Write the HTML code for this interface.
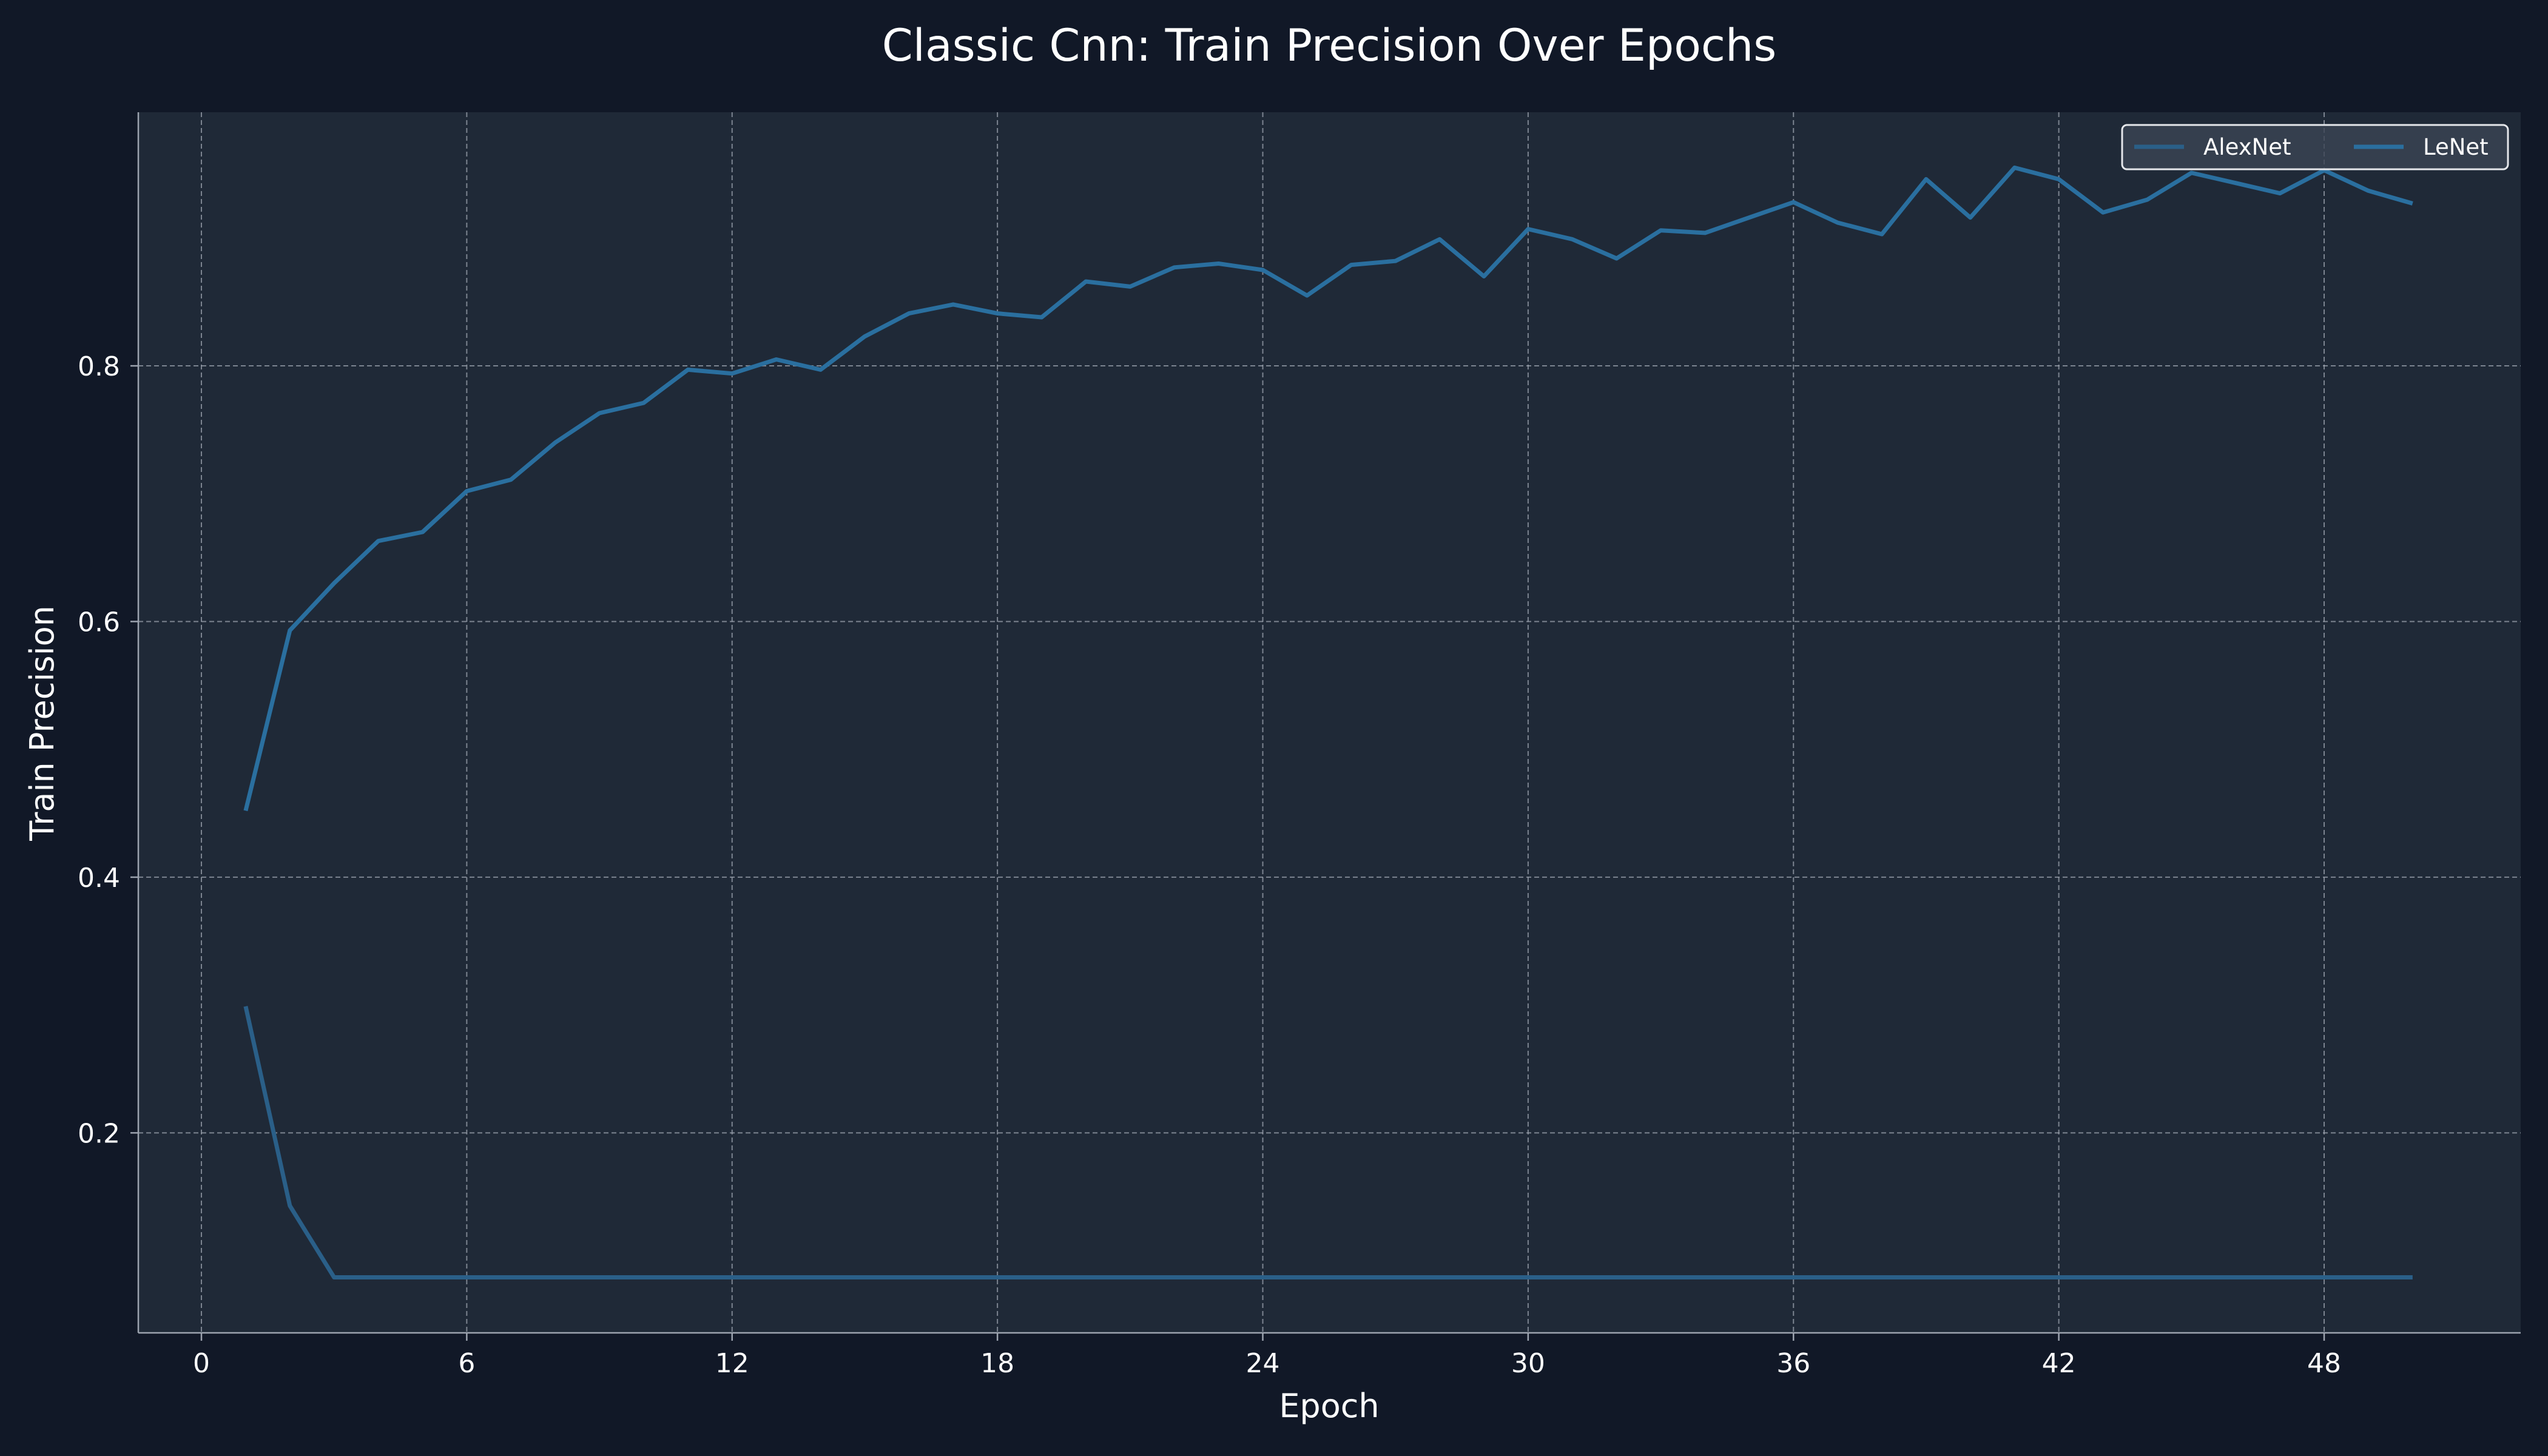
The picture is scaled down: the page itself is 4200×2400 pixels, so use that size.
<!DOCTYPE html>
<html><head><meta charset="utf-8"><style>
html,body{margin:0;padding:0;background:#111827;}
svg{display:block;font-family:"DejaVu Sans","Liberation Sans",sans-serif;}
</style></head><body>
<svg id="chart" width="4200" height="2400" viewBox="0 0 4200 2400" xmlns="http://www.w3.org/2000/svg">
<rect x="0" y="0" width="4200" height="2400" fill="#111827"/>
<rect x="228" y="185" width="3927" height="2012" fill="#1f2937"/>
<g id="grid"></g>
<g id="ticks"></g>
<line x1="228" y1="2197" x2="4155" y2="2197" stroke="#9ca3af" stroke-width="2.5"/>
<line x1="228" y1="185" x2="228" y2="2197" stroke="#9ca3af" stroke-width="2.5"/>
<g id="series"></g>
<text x="2191" y="100" text-anchor="middle" font-size="73" fill="#ffffff">Classic Cnn: Train Precision Over Epochs</text>
<text x="2191" y="2336" text-anchor="middle" font-size="54" fill="#ffffff">Epoch</text>
<text x="0" y="0" transform="translate(88,1192) rotate(-90)" text-anchor="middle" font-size="54" fill="#ffffff">Train Precision</text>
<g>
<rect x="3498" y="206" width="636" height="73" rx="8" fill="#3b4554" fill-opacity="0.8" stroke="#e5e7eb" stroke-width="3"/>
<line x1="3518" y1="242" x2="3600" y2="242" stroke="#2a5f88" stroke-width="7"/>
<text x="3632" y="255" font-size="37" fill="#ffffff">AlexNet</text>
<line x1="3880" y1="242" x2="3962" y2="242" stroke="#2a6f9f" stroke-width="7"/>
<text x="3994" y="255" font-size="37" fill="#ffffff">LeNet</text>
</g>
</svg>
<script>
const epochs = Array.from({length:50},(_,i)=>i+1);
const lenet = [0.452,0.593,0.63,0.663,0.67,0.702,0.711,0.74,0.763,0.771,0.797,0.794,0.805,0.797,0.823,0.841,0.848,0.841,0.838,0.866,0.862,0.877,0.880,0.875,0.855,0.879,0.882,0.899,0.870,0.907,0.899,0.884,0.906,0.904,0.916,0.928,0.912,0.903,0.946,0.916,0.955,0.946,0.920,0.930,0.951,0.943,0.935,0.953,0.937,0.927];
const alexnet = [0.299,0.143,0.087,0.087,0.087,0.087,0.087,0.087,0.087,0.087,0.087,0.087,0.087,0.087,0.087,0.087,0.087,0.087,0.087,0.087,0.087,0.087,0.087,0.087,0.087,0.087,0.087,0.087,0.087,0.087,0.087,0.087,0.087,0.087,0.087,0.087,0.087,0.087,0.087,0.087,0.087,0.087,0.087,0.087,0.087,0.087,0.087,0.087,0.087,0.087];
const xTicks = [0,6,12,18,24,30,36,42,48];
const yTicks = [0.2,0.4,0.6,0.8];
const yTickLabels = ["0.2","0.4","0.6","0.8"];

const NS="http://www.w3.org/2000/svg";
function xs(v){return 332 + v*(3831-332)/48;}
function ys(v){return 2288.8 - v*2107.2;}
function mk(tag,attrs,parent){const e=document.createElementNS(NS,tag);for(const k in attrs)e.setAttribute(k,attrs[k]);parent.appendChild(e);return e;}
const grid=document.getElementById('grid'), ticks=document.getElementById('ticks'), series=document.getElementById('series');
xTicks.forEach(t=>{
  const g=mk('line',{x1:xs(t),x2:xs(t),y1:185,y2:2197,stroke:'#9ca3af','stroke-width':2,'stroke-dasharray':'8,5','stroke-opacity':0.75},grid);
  
  
  const tk=mk('line',{x1:xs(t),x2:xs(t),y1:2197,y2:2210,stroke:'#9ca3af','stroke-width':2.5},ticks);
  
  
  const lb=mk('text',{x:xs(t),y:2262,'text-anchor':'middle','font-size':44,fill:'#ffffff'},ticks);
  lb.textContent=String(t);
  
  
});
yTicks.forEach((t,i)=>{
  const g=mk('line',{x1:228,x2:4155,y1:ys(t),y2:ys(t),stroke:'#9ca3af','stroke-width':2,'stroke-dasharray':'8,5','stroke-opacity':0.75},grid);
  
  
  const tk=mk('line',{x1:215,x2:228,y1:ys(t),y2:ys(t),stroke:'#9ca3af','stroke-width':2.5},ticks);
  
  
  const lb=mk('text',{x:198,y:ys(t)+16,'text-anchor':'end','font-size':44,fill:'#ffffff'},ticks);
  lb.textContent=yTickLabels[i];
  
  
});
function line(data,color,name){
  const d=data.map((v,i)=>(i?'L':'M')+xs(epochs[i]).toFixed(1)+','+ys(v).toFixed(1)).join(' ');
  const p=mk('path',{d:d,fill:'none',stroke:color,'stroke-width':7,'stroke-linejoin':'round'},series);
  
  
}
line(alexnet,'#2a5f88','alexnet-line');
line(lenet,'#2a6f9f','lenet-line');
</script>
</body></html>
